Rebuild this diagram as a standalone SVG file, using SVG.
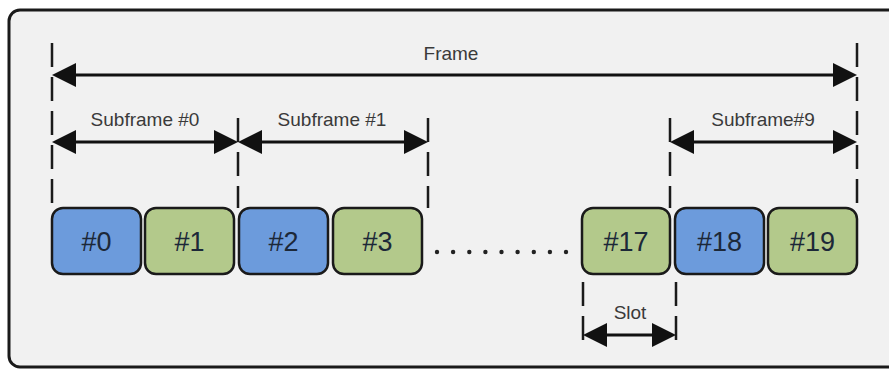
<svg xmlns="http://www.w3.org/2000/svg" width="889" height="369" viewBox="0 0 889 369">
  <style>
    .panel { fill: #f1f1f1; stroke: #1a1a1a; stroke-width: 3; }
    .guide { stroke: #1a1a1a; stroke-width: 2.5; stroke-dasharray: 24 10; fill: none; }
    .dim { stroke: #111; stroke-width: 3; fill: none; }
    .label { font-family: "Liberation Sans", Arial, sans-serif; font-size: 19px; fill: #3a3a3a; text-anchor: middle; }
    .slot rect { stroke: #1a1a1a; stroke-width: 2.5; }
    .slot text { font-family: "Liberation Sans", Arial, sans-serif; font-size: 27px; fill: #1c2838; text-anchor: middle; }
    .blue rect { fill: #6c9bdc; }
    .green rect { fill: #b3c98b; }
    .dot { fill: #222; }
  </style>
  <defs>
    <marker id="head" viewBox="0 0 24 24" refX="20" refY="12" markerWidth="24" markerHeight="24" markerUnits="userSpaceOnUse" orient="auto-start-reverse">
      <path d="M0,0 L24,12 L0,24 Z" fill="#111"/>
    </marker>
    <marker id="headSmall" viewBox="0 0 24 24" refX="20" refY="12" markerWidth="24" markerHeight="24" markerUnits="userSpaceOnUse" orient="auto-start-reverse">
      <path d="M0,0 L24,12 L0,24 Z" fill="#111"/>
    </marker>
  </defs>

  <rect width="889" height="369" fill="#ffffff"/>
  <rect class="panel" x="9" y="10" width="900" height="357" rx="11" ry="11"/>

  <!-- boundary guides -->
  <g id="guides">
    <line class="guide" x1="52" y1="43" x2="52" y2="210"/>
    <line class="guide" x1="857" y1="43" x2="857" y2="210"/>
    <line class="guide" x1="238" y1="118" x2="238" y2="208"/>
    <line class="guide" x1="428" y1="118" x2="428" y2="208"/>
    <line class="guide" x1="670" y1="118" x2="670" y2="208"/>
    <line class="guide" x1="583" y1="282" x2="583" y2="346"/>
    <line class="guide" x1="676" y1="282" x2="676" y2="346"/>
  </g>

  <!-- dimension arrows -->
  <g id="connectors">
    <line class="dim" x1="56" y1="75" x2="853" y2="75" marker-start="url(#head)" marker-end="url(#head)"/>
    <line class="dim" x1="56" y1="142" x2="234" y2="142" marker-start="url(#head)" marker-end="url(#head)"/>
    <line class="dim" x1="242" y1="142" x2="424" y2="142" marker-start="url(#head)" marker-end="url(#head)"/>
    <line class="dim" x1="674" y1="142" x2="853" y2="142" marker-start="url(#head)" marker-end="url(#head)"/>
    <line class="dim" x1="587" y1="335" x2="672" y2="335" marker-start="url(#headSmall)" marker-end="url(#headSmall)"/>
  </g>

  <!-- dimension labels -->
  <g id="labels">
    <text class="label" x="451" y="60">Frame</text>
    <text class="label" x="145" y="126">Subframe #0</text>
    <text class="label" x="332" y="126">Subframe #1</text>
    <text class="label" x="763" y="126">Subframe#9</text>
    <text class="label" x="630" y="319">Slot</text>
  </g>

  <!-- slots -->
  <g id="slot0" class="slot blue"><rect x="52" y="208" width="89" height="66" rx="11"/><text x="96.5" y="251">#0</text></g>
  <g id="slot1" class="slot green"><rect x="145" y="208" width="89" height="66" rx="11"/><text x="189.5" y="251">#1</text></g>
  <g id="slot2" class="slot blue"><rect x="239" y="208" width="89" height="66" rx="11"/><text x="283.5" y="251">#2</text></g>
  <g id="slot3" class="slot green"><rect x="333" y="208" width="89" height="66" rx="11"/><text x="377.5" y="251">#3</text></g>
  <g id="slot17" class="slot green"><rect x="582" y="208" width="88" height="66" rx="11"/><text x="626" y="251">#17</text></g>
  <g id="slot18" class="slot blue"><rect x="675" y="208" width="89" height="66" rx="11"/><text x="719.5" y="251">#18</text></g>
  <g id="slot19" class="slot green"><rect x="768" y="208" width="89" height="66" rx="11"/><text x="812.5" y="251">#19</text></g>

  <!-- ellipsis between slots -->
  <g id="ellipsis">
    <circle class="dot" cx="437" cy="252" r="2.2"/>
    <circle class="dot" cx="453.1" cy="252" r="2.2"/>
    <circle class="dot" cx="469.3" cy="252" r="2.2"/>
    <circle class="dot" cx="485.4" cy="252" r="2.2"/>
    <circle class="dot" cx="501.5" cy="252" r="2.2"/>
    <circle class="dot" cx="517.6" cy="252" r="2.2"/>
    <circle class="dot" cx="533.8" cy="252" r="2.2"/>
    <circle class="dot" cx="549.9" cy="252" r="2.2"/>
    <circle class="dot" cx="566" cy="252" r="2.2"/>
  </g>
</svg>
